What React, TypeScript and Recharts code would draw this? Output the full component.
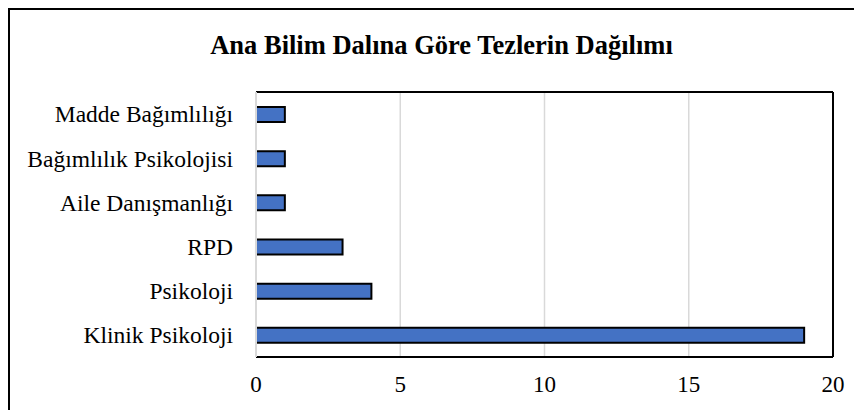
import React from "react";
import { BarChart, Bar, XAxis, YAxis, CartesianGrid } from "recharts";

const categories = [
  "Madde Bağımlılığı",
  "Bağımlılık Psikolojisi",
  "Aile Danışmanlığı",
  "RPD",
  "Psikoloji",
  "Klinik Psikoloji",
];
const counts = [1, 1, 1, 3, 4, 19];
const xTicks = [0, 5, 10, 15, 20];
const title = "Ana Bilim Dalına Göre Tezlerin Dağılımı";

const data = categories.map((name, i) => ({ name, value: counts[i] }));

const FONT = "Liberation Serif";

export default function App() {
  return (
    <div
      style={{
        position: "relative",
        width: 849,
        height: 420,
        border: "2px solid #000",
        background: "#fff",
        fontFamily: FONT,
      }}
    >
      <div
        style={{
          position: "absolute",
          left: 0,
          top: 22,
          width: 863,
          textAlign: "center",
          fontWeight: "bold",
          fontSize: 26.5,
          lineHeight: 1,
          color: "#000",
          fontFamily: FONT,
          whiteSpace: "nowrap",
        }}
      >
        {title}
      </div>
      <BarChart
        width={849}
        height={410}
        data={data}
        layout="vertical"
        margin={{ top: 81, right: 25, bottom: 33, left: 0 }}
        barCategoryGap={0}
      >
        <CartesianGrid horizontal={false} vertical={true} stroke="#d9d9d9" strokeWidth={1.5} />
        <XAxis
          type="number"
          domain={[0, 20]}
          ticks={xTicks}
          axisLine={{ stroke: "#000", strokeWidth: 2 }}
          tickLine={false}
          tick={{ fill: "#000", fontSize: 23, fontFamily: FONT }}
          tickMargin={13}
          height={30}
        />
        <XAxis
          xAxisId="top"
          orientation="top"
          type="number"
          domain={[0, 20]}
          ticks={xTicks}
          axisLine={{ stroke: "#000", strokeWidth: 2 }}
          tickLine={false}
          tick={false}
          height={1}
        />
        <YAxis
          type="category"
          dataKey="name"
          width={246}
          axisLine={{ stroke: "#d9d9d9", strokeWidth: 2 }}
          tickLine={false}
          tick={{ fill: "#000", fontSize: 23.5, fontFamily: FONT }}
          tickMargin={17}
        />
        <YAxis
          yAxisId="right"
          orientation="right"
          type="category"
          dataKey="name"
          width={1}
          axisLine={{ stroke: "#000", strokeWidth: 2 }}
          tickLine={false}
          tick={false}
        />
        <Bar
          dataKey="value"
          fill="#4472c4"
          stroke="#000"
          strokeWidth={2}
          barSize={15}
          isAnimationActive={false}
        />
      </BarChart>
    </div>
  );
}
